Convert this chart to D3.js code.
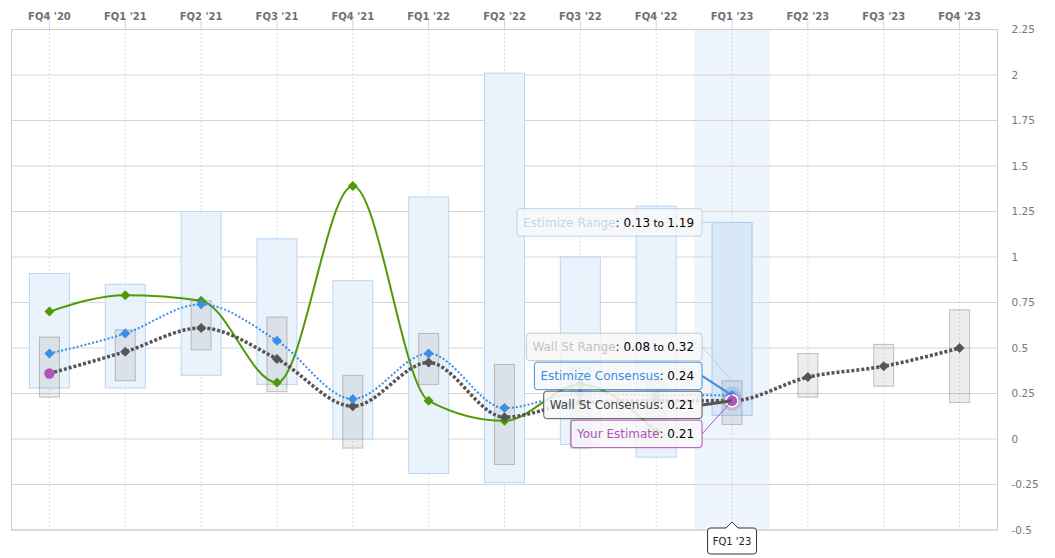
<!doctype html>
<html lang="en">
<head>
<meta charset="utf-8">
<title>EPS estimates by quarter</title>
<script src="https://cdn.jsdelivr.net/npm/d3@7/dist/d3.min.js"></script>
<style>
  body { margin: 0; background: #fff; }
  svg { display: block; font-family: "DejaVu Sans", Verdana, sans-serif; }
</style>
</head>
<body>
<svg width="1055" height="558"></svg>
<script>
// ---- data ----
var quarters = ["FQ4 '20", "FQ1 '21", "FQ2 '21", "FQ3 '21", "FQ4 '21", "FQ1 '22", "FQ2 '22",
                "FQ3 '22", "FQ4 '22", "FQ1 '23", "FQ2 '23", "FQ3 '23", "FQ4 '23"];
var estimizeLow  = [0.28, 0.28, 0.35, 0.30, 0.00, -0.19, -0.24, -0.03, -0.10, 0.13, null, null, null];
var estimizeHigh = [0.91, 0.85, 1.25, 1.10, 0.87, 1.33, 2.01, 1.00, 1.28, 1.19, null, null, null];
var wallStLow  = [0.23, 0.32, 0.49, 0.26, -0.05, 0.30, -0.14, -0.05, 0.02, 0.08, 0.23, 0.29, 0.20];
var wallStHigh = [0.56, 0.60, 0.76, 0.67, 0.35, 0.58, 0.41, 0.39, 0.32, 0.32, 0.47, 0.52, 0.71];
var actual            = [0.70, 0.79, 0.76, 0.31, 1.39, 0.21, 0.10, 0.30, 0.04, null, null, null, null];
var estimizeConsensus = [0.47, 0.58, 0.74, 0.54, 0.22, 0.47, 0.17, 0.25, 0.24, 0.24, null, null, null];
var wallStConsensus   = [0.36, 0.48, 0.61, 0.44, 0.18, 0.42, 0.12, 0.20, 0.21, 0.21, 0.34, 0.40, 0.50];
var yourEstimate      = [0.36, null, null, null, null, null, null, null, null, 0.21, null, null, null];
var yTicks = [-0.5, -0.25, 0, 0.25, 0.5, 0.75, 1, 1.25, 1.5, 1.75, 2, 2.25];
var current = 9; // FQ1 '23 is hovered

var green = '#4f9a06', blue = '#3a8ee6', dark = '#555', purple = '#b352bb';

var svg = d3.select('svg');
var plotLeft = 11.5, plotRight = 997.5, plotTop = 29.5, plotBottom = 530;

var x = d3.scaleBand().domain(quarters).range([plotLeft, plotRight]).padding(0);
var y = d3.scaleLinear().domain([-0.5, 2.25]).range([plotBottom, plotTop]);
var cx = function(i){ return x(quarters[i]) + x.bandwidth() / 2; };

// hovered column band
svg.append('rect')
  .attr('x', x(quarters[current])).attr('y', plotTop)
  .attr('width', x.bandwidth()).attr('height', plotBottom - plotTop)
  .attr('fill', '#eef5fd');

// horizontal grid
svg.append('g').selectAll('line').data(yTicks).enter().append('line')
  .attr('x1', plotLeft).attr('x2', plotRight)
  .attr('y1', function(d){ return y(d); }).attr('y2', function(d){ return y(d); })
  .attr('stroke', '#d6d6d6');

// vertical dotted grid
svg.append('g').selectAll('line').data(quarters).enter().append('line')
  .attr('x1', function(d, i){ return cx(i); }).attr('x2', function(d, i){ return cx(i); })
  .attr('y1', plotTop).attr('y2', plotBottom)
  .attr('stroke', '#bbb').attr('stroke-dasharray', '1,3');

// frame
svg.append('rect')
  .attr('x', plotLeft).attr('y', plotTop)
  .attr('width', plotRight - plotLeft).attr('height', plotBottom - plotTop)
  .attr('fill', 'none').attr('stroke', '#ccc');

// top axis
var topAxis = svg.append('g')
  .attr('transform', 'translate(0,' + plotTop + ')')
  .call(d3.axisTop(x).tickSize(9).tickPadding(1));
topAxis.select('.domain').remove();
topAxis.selectAll('line').attr('stroke', '#c6d5e8');
topAxis.selectAll('text')
  .attr('fill', '#707070').attr('font-size', 10).attr('font-weight', 'bold')
  .attr('font-family', '"DejaVu Sans", Verdana, sans-serif');

// right axis
var rightAxis = svg.append('g')
  .attr('transform', 'translate(' + plotRight + ',0)')
  .call(d3.axisRight(y).tickValues(yTicks).tickSize(0).tickPadding(14)
    .tickFormat(function(d){ return String(+d.toFixed(2)); }));
rightAxis.select('.domain').remove();
rightAxis.selectAll('text')
  .attr('fill', '#777').attr('font-size', 10.5)
  .attr('font-family', '"DejaVu Sans", Verdana, sans-serif');

// estimize range bars
var idx = d3.range(quarters.length);
svg.append('g').selectAll('rect')
  .data(idx.filter(function(i){ return estimizeHigh[i] != null; }))
  .enter().append('rect')
  .attr('x', function(i){ return cx(i) - 20; })
  .attr('width', 40)
  .attr('y', function(i){ return y(estimizeHigh[i]); })
  .attr('height', function(i){ return y(estimizeLow[i]) - y(estimizeHigh[i]); })
  .attr('fill', function(i){ return i === current ? '#d9e8f8' : '#eaf3fc'; })
  .attr('stroke', function(i){ return i === current ? '#a6c9ee' : '#b8d6f4'; });

// wall st range bars
svg.append('g').selectAll('rect')
  .data(idx.filter(function(i){ return wallStHigh[i] != null; }))
  .enter().append('rect')
  .attr('x', function(i){ return cx(i) - 10; })
  .attr('width', 20)
  .attr('y', function(i){ return y(wallStHigh[i]); })
  .attr('height', function(i){ return y(wallStLow[i]) - y(wallStHigh[i]); })
  .attr('fill', 'rgba(120,120,120,0.14)')
  .attr('stroke', 'rgba(110,110,110,0.4)');

var line = function(values){
  return d3.line()
    .defined(function(i){ return values[i] != null; })
    .x(function(i){ return cx(i); })
    .y(function(i){ return y(values[i]); })
    .curve(d3.curveMonotoneX)(idx);
};
var diamond = function(r){
  return 'M0,' + (-r) + 'L' + r + ',0L0,' + r + 'L' + (-r) + ',0Z';
};
var markers = function(values, color, skip){
  svg.append('g').selectAll('path')
    .data(idx.filter(function(i){ return values[i] != null && i !== skip; }))
    .enter().append('path')
    .attr('transform', function(i){ return 'translate(' + cx(i) + ',' + y(values[i]) + ')'; })
    .attr('d', diamond(5))
    .attr('fill', color);
};

// actual (green)
svg.append('path').attr('d', line(actual))
  .attr('fill', 'none').attr('stroke', green).attr('stroke-width', 2);
markers(actual, green);

// wall st consensus
svg.append('path').attr('d', line(wallStConsensus))
  .attr('fill', 'none').attr('stroke', dark).attr('stroke-width', 3.5)
  .attr('stroke-dasharray', '3,2');
markers(wallStConsensus, dark, 0);

// estimize consensus
svg.append('path').attr('d', line(estimizeConsensus))
  .attr('fill', 'none').attr('stroke', blue).attr('stroke-width', 2)
  .attr('stroke-dasharray', '2,2');
markers(estimizeConsensus, blue);

// hovered blue halo
svg.append('circle')
  .attr('cx', cx(current)).attr('cy', y(estimizeConsensus[current]))
  .attr('r', 9).attr('fill', blue).attr('fill-opacity', 0.25);

// your estimate
svg.append('circle')
  .attr('cx', cx(current)).attr('cy', y(yourEstimate[current]))
  .attr('r', 10).attr('fill', purple).attr('fill-opacity', 0.25);
svg.append('g').selectAll('circle')
  .data(idx.filter(function(i){ return yourEstimate[i] != null; }))
  .enter().append('circle')
  .attr('cx', function(i){ return cx(i); })
  .attr('cy', function(i){ return y(yourEstimate[i]); })
  .attr('r', function(i){ return i === current ? 6 : 5.2; })
  .attr('fill', purple)
  .attr('stroke', function(i){ return i === current ? '#fff' : 'none'; })
  .attr('stroke-width', 1.5);

// ---- split tooltip ----
var f = function(v){ return v.toFixed(2); };
var tips = [
  { label: 'Estimize Range', color: '#c2d7ee', border: '#b9d4f0', width: 1,
    range: [estimizeLow[current], estimizeHigh[current]], anchor: y(estimizeHigh[current]) },
  { label: 'Wall St Range', color: '#c3c3c3', border: '#c9c9c9', width: 1,
    range: [wallStLow[current], wallStHigh[current]], anchor: y(wallStHigh[current]) },
  { label: 'Estimize Consensus', color: blue, border: blue, width: 2,
    value: estimizeConsensus[current], anchor: y(estimizeConsensus[current]) },
  { label: 'Wall St Consensus', color: '#444', border: dark, width: 3,
    value: wallStConsensus[current], anchor: y(wallStConsensus[current]) },
  { label: 'Your Estimate', color: purple, border: purple, width: 1,
    value: yourEstimate[current], anchor: y(yourEstimate[current]) }
];
var boxH = 27.5, gap = 1.5, boxRight = cx(current) - 30;
// first box sits on its own anchor, the rest stack around their mean anchor
tips[0].cy = tips[0].anchor;
var rest = tips.slice(1);
var mean = d3.mean(rest, function(t){ return t.anchor; });
var stackTop = mean - (rest.length * boxH + (rest.length - 1) * gap) / 2 - 4;
rest.forEach(function(t, k){ t.cy = stackTop + k * (boxH + gap) + boxH / 2; });

tips.forEach(function(t){
  svg.append('line')
    .attr('x1', boxRight).attr('y1', t.cy)
    .attr('x2', cx(current)).attr('y2', t.anchor)
    .attr('stroke', t.border).attr('stroke-width', t.width);
});

tips.forEach(function(t){
  var g = svg.append('g');
  var box = g.append('rect');
  var text = g.append('text')
    .attr('font-size', 12).attr('y', t.cy).attr('dy', '0.36em');
  text.append('tspan').attr('fill', t.color).text(t.label);
  text.append('tspan').attr('fill', '#222').text(': ');
  if (t.range) {
    text.append('tspan').attr('fill', '#000').text(f(t.range[0]));
    text.append('tspan').attr('fill', '#000').attr('font-size', 10.5).text(' to ');
    text.append('tspan').attr('fill', '#000').text(f(t.range[1]));
  } else {
    text.append('tspan').attr('fill', '#000').text(f(t.value));
  }
  var w = text.node().getComputedTextLength();
  var bx = boxRight - w - 14;
  text.attr('x', bx + 6);
  box.attr('x', bx).attr('y', t.cy - boxH / 2)
    .attr('width', w + 14).attr('height', boxH)
    .attr('rx', 3)
    .attr('fill', 'rgba(247,247,247,0.86)')
    .attr('stroke', t.border);
});

// hovered category label at the bottom
var lx = cx(current), lw = 49, ly = 528, lh = 26;
var l0 = lx - lw / 2, l1 = lx + lw / 2;
svg.append('path')
  .attr('d', 'M' + (l0 + 3) + ',' + ly + 'L' + (lx - 6) + ',' + ly + 'L' + lx + ',' + (ly - 6) +
    'L' + (lx + 6) + ',' + ly + 'L' + (l1 - 3) + ',' + ly + 'Q' + l1 + ',' + ly + ' ' + l1 + ',' + (ly + 3) +
    'L' + l1 + ',' + (ly + lh - 3) + 'Q' + l1 + ',' + (ly + lh) + ' ' + (l1 - 3) + ',' + (ly + lh) +
    'L' + (l0 + 3) + ',' + (ly + lh) + 'Q' + l0 + ',' + (ly + lh) + ' ' + l0 + ',' + (ly + lh - 3) +
    'L' + l0 + ',' + (ly + 3) + 'Q' + l0 + ',' + ly + ' ' + (l0 + 3) + ',' + ly + 'Z')
  .attr('fill', '#fff').attr('stroke', '#333');
svg.append('text')
  .attr('x', lx).attr('y', ly + lh / 2).attr('dy', '0.35em')
  .attr('text-anchor', 'middle').attr('font-size', 10).attr('fill', '#222')
  .text(quarters[current]);
</script>
</body>
</html>
